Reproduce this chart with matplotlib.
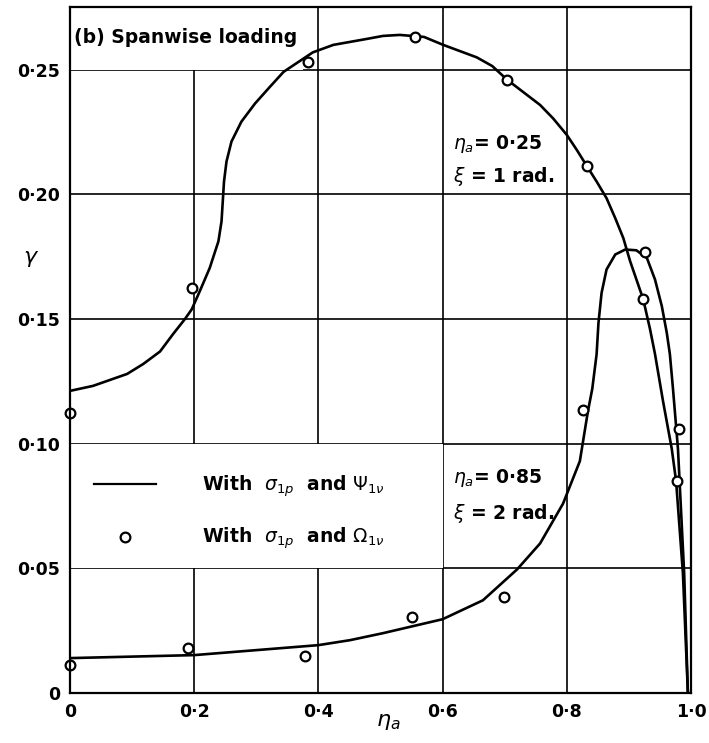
import matplotlib
matplotlib.use("Agg")
import matplotlib.pyplot as plt
from matplotlib.patches import Rectangle
from matplotlib.lines import Line2D

plt.rcParams['font.family'] = ['DejaVu Sans']
plt.rcParams['mathtext.fontset'] = 'dejavusans'

# Curve eta_a = 0.25, xi = 1 rad (with sigma_1p and Psi_1nu)
c1_x = [0.0, 0.037, 0.092, 0.118, 0.145, 0.166, 0.185, 0.196, 0.209, 0.225, 0.239,
        0.244, 0.246, 0.248, 0.252, 0.260, 0.276, 0.298, 0.322, 0.344, 0.391,
        0.424, 0.478, 0.504, 0.531, 0.570, 0.601, 0.655, 0.680, 0.704, 0.757,
        0.778, 0.800, 0.816, 0.832, 0.848, 0.864, 0.878, 0.891, 0.902, 0.923,
        0.934, 0.942, 0.955, 0.969, 0.976, 0.987, 0.995]
c1_y = [0.1212, 0.1232, 0.128, 0.132, 0.137, 0.144, 0.150, 0.1539, 0.1612, 0.1705, 0.1812,
        0.1892, 0.1972, 0.2052, 0.2132, 0.2212, 0.2292, 0.2365, 0.2432, 0.2492, 0.257,
        0.260, 0.2624, 0.2636, 0.264, 0.2632, 0.260, 0.255, 0.2515, 0.246, 0.2359,
        0.2305, 0.2239, 0.2179, 0.2115, 0.2052, 0.1985, 0.1905, 0.1825, 0.1732, 0.158,
        0.146, 0.136, 0.117, 0.098, 0.085, 0.048, 0.0]

# Curve eta_a = 0.85, xi = 2 rad
c2_x = [0.0, 0.2, 0.4, 0.451, 0.504, 0.6, 0.665, 0.72, 0.757, 0.794, 0.821, 0.834,
        0.841, 0.848, 0.851, 0.856, 0.864, 0.878, 0.894, 0.912, 0.929, 0.942,
        0.953, 0.961, 0.966, 0.971, 0.979, 0.989, 0.995]
c2_y = [0.0140, 0.0152, 0.0192, 0.0212, 0.024, 0.0296, 0.0372, 0.0496, 0.060, 0.076,
        0.093, 0.113, 0.122, 0.1359, 0.1485, 0.1605, 0.1699, 0.1759, 0.1779, 0.1776,
        0.1745, 0.1659, 0.1552, 0.1445, 0.1359, 0.122, 0.098, 0.048, 0.0]

# Circles (with sigma_1p and Omega_1nu)
p1_x = [0.0, 0.196, 0.383, 0.555, 0.703, 0.832, 0.923, 0.977]
p1_y = [0.1124, 0.1624, 0.253, 0.263, 0.246, 0.2115, 0.158, 0.0850]
p2_x = [0.0, 0.190, 0.378, 0.551, 0.699, 0.826, 0.926, 0.981]
p2_y = [0.0112, 0.018, 0.0148, 0.0304, 0.0384, 0.1136, 0.177, 0.106]

xticks = [0, 0.2, 0.4, 0.6, 0.8, 1.0]
xtick_labels = ['0', '0·2', '0·4', '0·6', '0·8', '1·0']
yticks = [0, 0.05, 0.10, 0.15, 0.20, 0.25]
ytick_labels = ['0', '0·05', '0·10', '0·15', '0·20', '0·25']

fig = plt.figure(figsize=(7.09, 7.43), dpi=100)
ax = fig.add_axes([70/709, 50/743, 621/709, 686/743])
ax.set_xlim(0, 1.0)
ax.set_ylim(0, 0.2752)

ax.set_xticks(xticks)
ax.set_xticklabels(xtick_labels)
ax.set_yticks(yticks)
ax.set_yticklabels(ytick_labels)
ax.tick_params(length=0, labelsize=12.5, pad=7)
for lab in ax.get_xticklabels() + ax.get_yticklabels():
    lab.set_fontweight('bold')
ax.grid(True, color='black', linewidth=1.2, zorder=0)
ax.set_axisbelow(True)
for s in ax.spines.values():
    s.set_linewidth(1.6)
    s.set_zorder(5)

# white boxes covering grid
ax.add_patch(Rectangle((0, 0.25), 0.375, 0.0252, facecolor='white', edgecolor='none', zorder=1.5))
ax.add_patch(Rectangle((0, 0.05), 0.6, 0.05, facecolor='white', edgecolor='none', zorder=1.5))

kw = dict(color='black', lw=1.9, zorder=3, solid_capstyle='round', solid_joinstyle='round')
ax.plot(c1_x, c1_y, **kw)
ax.plot(c2_x, c2_y, **kw)
ax.plot(p1_x, p1_y, 'o', ms=7, mfc='white', mec='black', mew=1.6, zorder=4, clip_on=False)
ax.plot(p2_x, p2_y, 'o', ms=7, mfc='white', mec='black', mew=1.6, zorder=4, clip_on=False)

ax.text(0.006, 0.2628, '(b) Spanwise loading', fontsize=13.5, fontweight='bold',
        va='center', ha='left', zorder=6)

handles = [Line2D([], [], color='black', lw=1.6),
           Line2D([], [], ls='none', marker='o', ms=7, mfc='white', mec='black', mew=1.6)]
labels = [r'With  $\sigma_{1p}$  and $\Psi_{1\nu}$', r'With  $\sigma_{1p}$  and $\Omega_{1\nu}$']
leg = ax.legend(handles, labels, loc='center left', bbox_to_anchor=(0.011, 0.0725 / 0.2752),
                frameon=False, handlelength=3.3, handletextpad=2.5,
                labelspacing=1.45, prop={'weight': 'bold', 'size': 13.5})
leg.set_zorder(6)

tkw = dict(fontsize=13.5, fontweight='bold', va='center', ha='left', zorder=6)
ax.text(0.617, 0.2204, r'$\eta_a$= 0·25', **tkw)
ax.text(0.617, 0.2072, r'$\xi$ = 1 rad.', **tkw)
ax.text(0.617, 0.0864, r'$\eta_a$= 0·85', **tkw)
ax.text(0.617, 0.0722, r'$\xi$ = 2 rad.', **tkw)

ax.text(-0.062, 0.174, r'$\gamma$', fontsize=16, ha='center', va='center')
ax.text(0.512, -0.043, r'$\eta_a$', fontsize=16, ha='center', va='center', transform=ax.get_xaxis_transform())

fig.savefig('out.png', dpi=100)
